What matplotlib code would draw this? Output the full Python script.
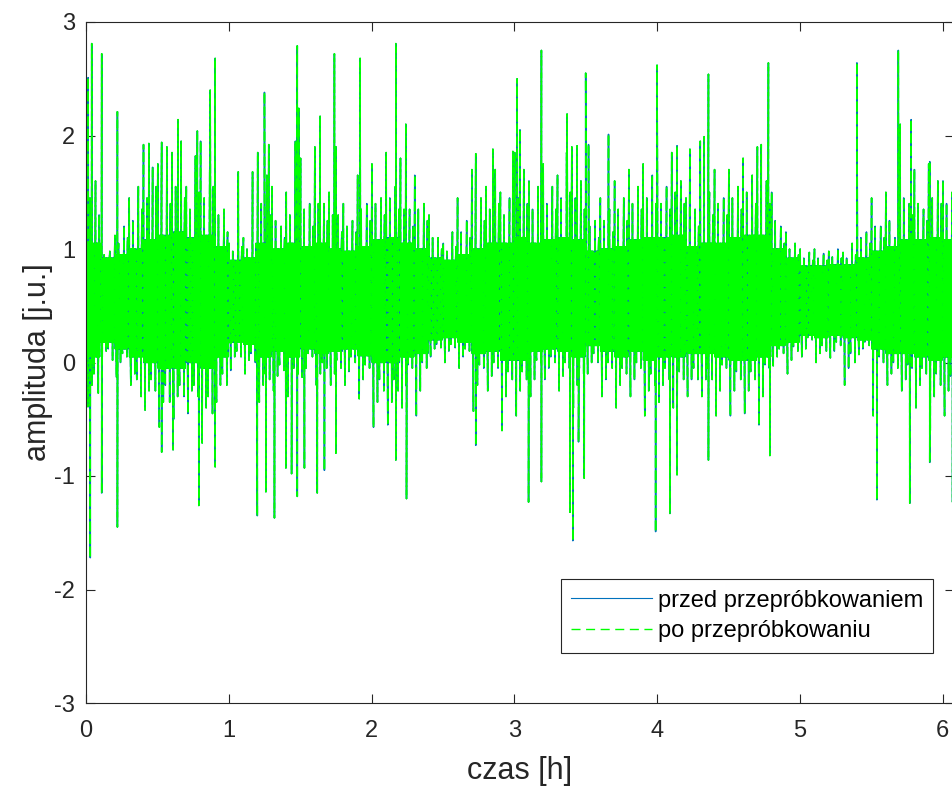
import numpy as np
import matplotlib
matplotlib.use('Agg')
import matplotlib.pyplot as plt

plt.rcParams['font.family'] = ['Liberation Sans', 'DejaVu Sans']
plt.rcParams['lines.scale_dashes'] = False
plt.rcParams['axes.unicode_minus'] = False

# czas w godzinach, przedzialy po 0.05 h
dt = 0.05

# najwyzsze wartosci w kazdym przedziale 0.05 h
fringe_hi = [1.95, 1.60, 1.00, 0.98, 1.12, 1.20, 1.45, 1.55, 1.92, 1.72,
             1.75, 1.90, 1.85, 1.95, 1.55, 1.82, 1.95, 1.70, 1.55, 1.35,
             1.05, 1.68, 1.10, 1.68, 1.85, 1.65, 1.55, 1.20, 1.50, 1.95,
             1.80, 1.40, 1.90, 1.40, 1.50, 1.30, 1.40, 1.25, 1.65, 1.40,
             1.75, 1.45, 1.85, 1.55, 1.80, 1.35, 1.65, 1.40, 1.30, 1.10,
             1.05, 1.15, 1.45, 1.25, 1.70, 1.45, 1.55, 1.70, 1.50, 1.45,
             1.85, 1.70, 1.60, 1.55, 1.75, 1.55, 1.65, 1.85, 1.90, 1.60,
             1.40, 1.25, 1.45, 1.35, 1.60, 1.45, 1.70, 1.55, 1.75, 1.65,
             1.70, 1.55, 1.85, 1.60, 1.45, 1.35, 1.95, 1.50, 1.70, 1.45,
             1.70, 1.55, 1.80, 1.65, 1.90, 1.60, 1.50, 1.20, 1.15, 1.05,
             1.00, 0.97, 1.00, 0.96, 0.98, 1.00, 0.97, 1.05, 1.30, 1.15,
             1.45, 1.20, 1.50, 1.10, 2.10, 1.40, 1.70, 1.35, 1.75, 1.60,
             1.60, 1.50]

# drugi poziom "frędzli" od gory
fringe2_hi = [1.45, 1.30, 0.95, 0.92, 1.05, 1.10, 1.25, 1.35, 1.45, 1.55,
              1.50, 1.40, 1.55, 1.45, 1.35, 1.50, 1.45, 1.55, 1.30, 1.15,
              0.98, 1.02, 1.00, 1.05, 1.40, 1.30, 1.25, 1.10, 1.30, 1.35,
              1.35, 1.20, 1.40, 1.25, 1.30, 1.15, 1.20, 1.15, 1.35, 1.25,
              1.40, 1.30, 1.45, 1.35, 1.35, 1.20, 1.35, 1.25, 1.10, 1.00,
              0.98, 1.02, 1.15, 1.10, 1.35, 1.25, 1.35, 1.40, 1.30, 1.25,
              1.45, 1.40, 1.35, 1.30, 1.40, 1.35, 1.45, 1.50, 1.45, 1.35,
              1.20, 1.10, 1.25, 1.15, 1.35, 1.25, 1.40, 1.35, 1.45, 1.40,
              1.40, 1.35, 1.50, 1.40, 1.30, 1.20, 1.45, 1.30, 1.40, 1.30,
              1.45, 1.35, 1.50, 1.40, 1.50, 1.40, 1.25, 1.05, 1.00, 0.95,
              0.92, 0.90, 0.92, 0.90, 0.93, 0.92, 0.92, 0.95, 1.10, 1.05,
              1.20, 1.10, 1.25, 1.05, 1.45, 1.30, 1.40, 1.25, 1.45, 1.40,
              1.40, 1.35]

# najnizsze wartosci w kazdym przedziale 0.05 h
fringe_lo = [-0.39, -0.27, 0.05, 0.02, -0.13, 0.05, -0.20, -0.30, -0.42, -0.25,
             -0.57, -0.35, -0.50, -0.30, -0.45, -0.30, -0.71, -0.45, -0.35, -0.20,
             -0.07, 0.05, -0.10, 0.00, -0.35, -0.15, -0.25, -0.07, -0.30, -0.10,
             -0.13, 0.05, -0.20, -0.05, -0.20, -0.05, -0.20, 0.00, -0.32, -0.05,
             -0.57, -0.25, -0.55, -0.25, -0.40, -0.05, -0.47, -0.05, 0.05, 0.13,
             0.00, 0.13, -0.05, 0.10, -0.43, -0.05, -0.25, -0.05, -0.60, -0.15,
             -0.47, -0.15, -0.30, 0.00, -0.15, 0.00, -0.25, -0.05, -0.40, -0.10,
             -0.10, 0.00, -0.30, -0.05, -0.40, -0.10, -0.30, -0.05, -0.47, -0.20,
             -0.35, -0.15, -0.40, -0.15, -0.30, -0.15, -0.30, -0.15, -0.47, -0.05,
             -0.47, -0.15, -0.45, -0.15, -0.55, -0.05, -0.03, 0.08, -0.10, 0.10,
             0.05, 0.20, 0.00, 0.10, 0.04, 0.15, -0.20, 0.00, 0.07, 0.15,
             -0.47, 0.00, -0.20, -0.05, -0.25, -0.05, -0.40, -0.10, -0.60, -0.20,
             -0.47, -0.25]

# drugi poziom "frędzli" od dolu
fringe2_lo = [-0.20, -0.10, 0.10, 0.12, 0.00, 0.08, -0.10, -0.15, -0.25, -0.15,
              -0.35, -0.20, -0.30, -0.20, -0.25, -0.20, -0.40, -0.30, -0.20, -0.10,
              0.05, 0.10, 0.02, 0.08, -0.20, -0.10, -0.12, -0.02, -0.15, -0.05,
              -0.05, 0.08, -0.10, 0.00, -0.10, 0.02, -0.08, 0.05, -0.15, -0.02,
              -0.35, -0.15, -0.35, -0.15, -0.20, -0.02, -0.25, 0.00, 0.12, 0.16,
              0.10, 0.16, 0.05, 0.12, -0.20, -0.02, -0.12, 0.00, -0.30, -0.08,
              -0.25, -0.08, -0.15, 0.02, -0.05, 0.05, -0.12, 0.00, -0.20, -0.05,
              0.00, 0.08, -0.15, 0.00, -0.20, -0.05, -0.15, 0.00, -0.25, -0.10,
              -0.20, -0.05, -0.22, -0.08, -0.15, -0.05, -0.15, -0.05, -0.25, -0.02,
              -0.25, -0.08, -0.25, -0.08, -0.30, -0.02, 0.05, 0.12, 0.02, 0.14,
              0.12, 0.22, 0.08, 0.15, 0.10, 0.18, -0.05, 0.08, 0.12, 0.18,
              -0.20, 0.05, -0.10, 0.00, -0.15, -0.02, -0.20, -0.05, -0.30, -0.10,
              -0.25, -0.12]

# granice zwartego pasa sygnalu, co 0.1 h
dense_hi = [1.05, 0.92, 0.95, 1.00, 1.08, 1.12, 1.15, 1.10, 1.12, 1.02,
            0.90, 0.92, 1.05, 1.00, 1.05, 1.02, 1.05, 1.00, 0.98, 1.02,
            1.08, 1.10, 1.05, 1.00, 0.92, 0.90, 0.95, 1.00, 1.05, 1.05,
            1.10, 1.05, 1.08, 1.10, 1.08, 0.98, 1.00, 1.02, 1.08, 1.10,
            1.10, 1.12, 1.02, 1.05, 1.05, 1.10, 1.12, 1.12, 1.00, 0.92,
            0.85, 0.85, 0.86, 0.86, 0.92, 0.98, 1.02, 1.08, 1.08, 1.10,
            1.08]
dense_lo = [0.05, 0.18, 0.12, 0.05, 0.00, -0.05, -0.05, 0.00, -0.05, 0.05,
            0.18, 0.16, 0.05, 0.10, 0.05, 0.12, 0.08, 0.10, 0.12, 0.06,
            0.00, 0.00, 0.05, 0.08, 0.20, 0.22, 0.18, 0.08, 0.10, 0.02,
            0.02, 0.10, 0.12, 0.10, 0.05, 0.15, 0.10, 0.05, 0.10, 0.02,
            0.05, 0.05, 0.08, 0.08, 0.05, 0.02, 0.02, 0.05, 0.15, 0.18,
            0.24, 0.22, 0.24, 0.22, 0.20, 0.12, 0.08, 0.08, 0.05, 0.02,
            0.05]

# pojedyncze piki w gore
spike_up_t = [0.015, 0.04, 0.11, 0.22, 0.44, 0.53, 0.645, 0.78, 0.87, 0.905,
              1.25, 1.28, 1.48, 1.49, 1.64, 1.74, 1.75, 1.92, 2.17, 2.24,
              2.73, 2.85, 2.99, 3.02, 3.04, 3.19, 3.37, 3.44, 3.50, 3.52,
              3.66, 4.00, 4.14, 4.23, 4.33, 4.36, 4.73, 4.78, 5.40, 5.69,
              5.78, 5.91]
spike_up_v = [2.51, 2.81, 2.72, 2.21, 1.93, 1.94, 2.14, 2.04, 2.40, 2.68,
              2.38, 1.92, 2.79, 2.24, 2.17, 2.72, 1.90, 2.68, 2.81, 2.10,
              1.84, 1.88, 1.86, 2.50, 2.05, 2.75, 2.19, 1.91, 2.55, 1.92,
              2.01, 2.62, 1.91, 1.88, 1.99, 2.54, 1.92, 2.64, 2.64, 2.75,
              2.14, 1.77]

# pojedyncze piki w dol
spike_dn_t = [0.03, 0.11, 0.22, 0.53, 0.61, 0.79, 0.905, 1.20, 1.26, 1.32,
              1.40, 1.44, 1.48, 1.53, 1.62, 1.67, 1.75, 2.17, 2.245, 2.73,
              3.10, 3.19, 3.39, 3.41, 3.45, 3.49, 3.99, 4.09, 4.14, 4.36,
              4.79, 5.54, 5.77, 5.91, 6.07]
spike_dn_v = [-1.72, -1.15, -1.45, -0.79, -0.77, -1.26, -0.92, -1.35, -1.14, -1.37,
              -0.93, -0.98, -1.18, -0.93, -1.15, -0.95, -0.80, -0.86, -1.20, -0.73,
              -1.23, -1.05, -1.32, -1.57, -0.70, -1.02, -1.49, -1.33, -0.99, -0.86,
              -0.82, -1.21, -1.24, -0.88, -1.23]


def build_signal():
    """sklada przebieg z odczytanych wartosci"""
    tt, yy = [], []
    for i in range(len(fringe_hi)):
        dh, dl = dense_hi[i // 2], dense_lo[i // 2]
        if i % 2 == 0:
            vals = [dh, fringe_hi[i], dl, dh, dl, fringe_lo[i], dh, dl,
                    dh, dl, fringe2_hi[i], dl, dh, dl, dh, fringe2_lo[i],
                    dh, dl]
        else:
            vals = [dh, dl, fringe2_lo[i], dh, dl, dh, fringe_hi[i], dl,
                    dh, dl, dh, dl, dh, fringe_lo[i], dh, fringe2_hi[i],
                    dl, dh]
        n = len(vals)
        tt.extend(i * dt + np.arange(n) * dt / n)
        yy.extend(vals)
    tt = np.concatenate([tt, spike_up_t, spike_dn_t])
    yy = np.concatenate([yy, spike_up_v, spike_dn_v])
    order = np.argsort(tt, kind='stable')
    return tt[order], yy[order]


t, y = build_signal()

axcol = '#262626'
blue = (0, 0.447, 0.741)
green = (0, 1, 0)
fig = plt.figure(figsize=(9.52, 7.91), dpi=100)
ax = fig.add_axes([86 / 952, 88 / 791, 868 / 952, 681 / 791])

ax.plot(t, y, color=blue, lw=1.1)
ax.plot(t, y, color=green, lw=1.1, ls='--', dashes=(7.0, 2.0))
# osobne uchwyty do legendy (ciensze linie, dluzsze przerwy)
ax.plot([], [], color=blue, lw=0.8, label='przed przepróbkowaniem')
ax.plot([], [], color=green, lw=1.0, ls='--', dashes=(6.5, 4.0),
        label='po przepróbkowaniu')

ax.set_xlim(0, 6.08)
ax.set_ylim(-3, 3)
ax.set_xticks(range(0, 7))
ax.set_yticks(range(-3, 4))
ax.tick_params(direction='in', top=True, right=True, length=6.5, width=0.8,
               color=axcol, labelcolor=axcol, labelsize=17)
ax.tick_params(axis='x', pad=12)
ax.tick_params(axis='y', pad=8)
for s in ax.spines.values():
    s.set_color(axcol)
    s.set_linewidth(0.8)

ax.set_xlabel('czas [h]', fontsize=22, color=axcol, labelpad=10)
ax.set_ylabel('amplituda [j.u.]', fontsize=22, color=axcol, labelpad=1)

leg = ax.legend(loc='upper left', bbox_to_anchor=(0.547, 0.182), fontsize=17,
                frameon=True, fancybox=False, framealpha=1, edgecolor=axcol,
                borderaxespad=0, borderpad=0.45, handlelength=3.4,
                handletextpad=0.25, labelspacing=0.35)
leg.get_frame().set_linewidth(0.8)

fig.savefig('out.png', dpi=100)
